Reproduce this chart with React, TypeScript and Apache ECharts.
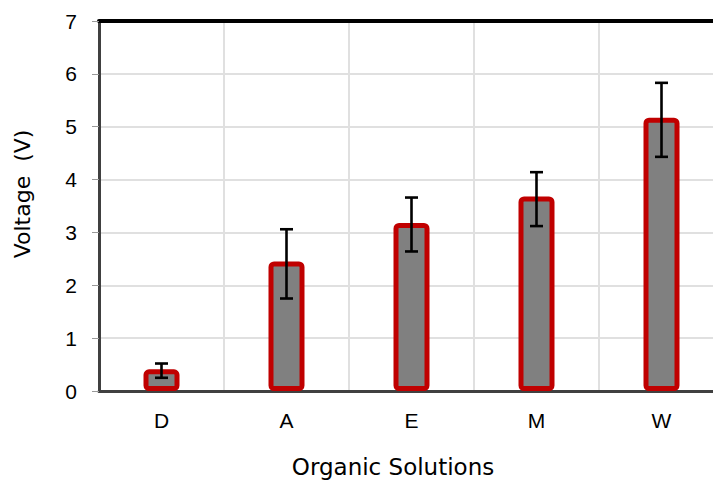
import React, { useEffect, useRef } from "react";
import * as echarts from "echarts";

const categories = ["D", "A", "E", "M", "W"];
const voltages = [0.41, 2.45, 3.18, 3.68, 5.17];
const errLow = [0.25, 1.75, 2.64, 3.12, 4.43];
const errHigh = [0.52, 3.06, 3.66, 4.14, 5.83];
const yTicks = [0, 1, 2, 3, 4, 5, 6, 7];

export default function App() {
  const ref = useRef<HTMLDivElement>(null);
  useEffect(() => {
    if (!ref.current) return;
    const chart = echarts.init(ref.current, null, { renderer: "svg" });
    const font = "'DejaVu Sans', 'Liberation Sans', Arial, sans-serif";
    const tickFont = "'Liberation Sans', Arial, sans-serif";
    const errData = categories.map((c, i) => [i, errLow[i], errHigh[i]]);
    chart.setOption({
      animation: false,
      backgroundColor: "#ffffff",
      grid: { left: 99, top: 21, width: 625, height: 370, containLabel: false },
      xAxis: [
        {
          type: "category",
          data: categories,
          position: "bottom",
          axisLine: { show: true, lineStyle: { color: "#404040", width: 3 } },
          axisTick: { show: false },
          axisLabel: { color: "#000", fontSize: 21, fontFamily: tickFont, margin: 19 },
          splitLine: { show: true, lineStyle: { color: "#e0e0e0", width: 2 } },
        },
        {
          type: "category",
          data: categories,
          position: "top",
          axisLine: { show: true, lineStyle: { color: "#000", width: 4 } },
          axisTick: { show: false },
          axisLabel: { show: false },
          splitLine: { show: false },
        },
      ],
      yAxis: {
        type: "value",
        min: yTicks[0],
        max: yTicks[yTicks.length - 1],
        interval: 1,
        axisLine: { show: true, lineStyle: { color: "#404040", width: 3 } },
        axisTick: { show: true, length: 7, lineStyle: { color: "#999", width: 1 } },
        axisLabel: { color: "#000", fontSize: 21, fontFamily: tickFont, margin: 22 },
        splitLine: { show: true, lineStyle: { color: "#e0e0e0", width: 2 } },
      },
      series: [
        {
          type: "bar",
          data: voltages,
          barWidth: 36,
          itemStyle: { color: "#808080", borderColor: "#c00000", borderWidth: 5, borderRadius: 3 },
          z: 1,
        },
        {
          type: "custom",
          data: errData,
          z: 5,
          renderItem: (params: any, api: any) => {
            const x = api.value(0);
            const lo = api.coord([x, api.value(1)]);
            const hi = api.coord([x, api.value(2)]);
            const half = 6.5;
            const style = { stroke: "#000", lineWidth: 2.6, fill: "none" };
            return {
              type: "group",
              children: [
                { type: "line", shape: { x1: lo[0], y1: lo[1], x2: hi[0], y2: hi[1] }, style },
                { type: "line", shape: { x1: hi[0] - half, y1: hi[1], x2: hi[0] + half, y2: hi[1] }, style },
                { type: "line", shape: { x1: lo[0] - half, y1: lo[1], x2: lo[0] + half, y2: lo[1] }, style },
              ],
            };
          },
        },
      ],
      graphic: [
        {
          type: "text",
          x: 22,
          y: 194,
          rotation: Math.PI / 2,
          style: {
            text: "Voltage  (V)",
            font: `22px ${font}`,
            fill: "#000",
            align: "center",
            verticalAlign: "middle",
          },
        },
        {
          type: "text",
          x: 393,
          y: 467,
          style: {
            text: "Organic Solutions",
            font: `23px ${font}`,
            fill: "#000",
            align: "center",
            verticalAlign: "middle",
          },
        },
      ],
    });
    return () => chart.dispose();
  }, []);
  return (
    <div
      style={{
        position: "absolute",
        left: 0,
        top: 0,
        width: 713,
        height: 480,
        overflow: "hidden",
        background: "#fff",
      }}
    >
      <div ref={ref} style={{ width: 760, height: 480 }} />
    </div>
  );
}
